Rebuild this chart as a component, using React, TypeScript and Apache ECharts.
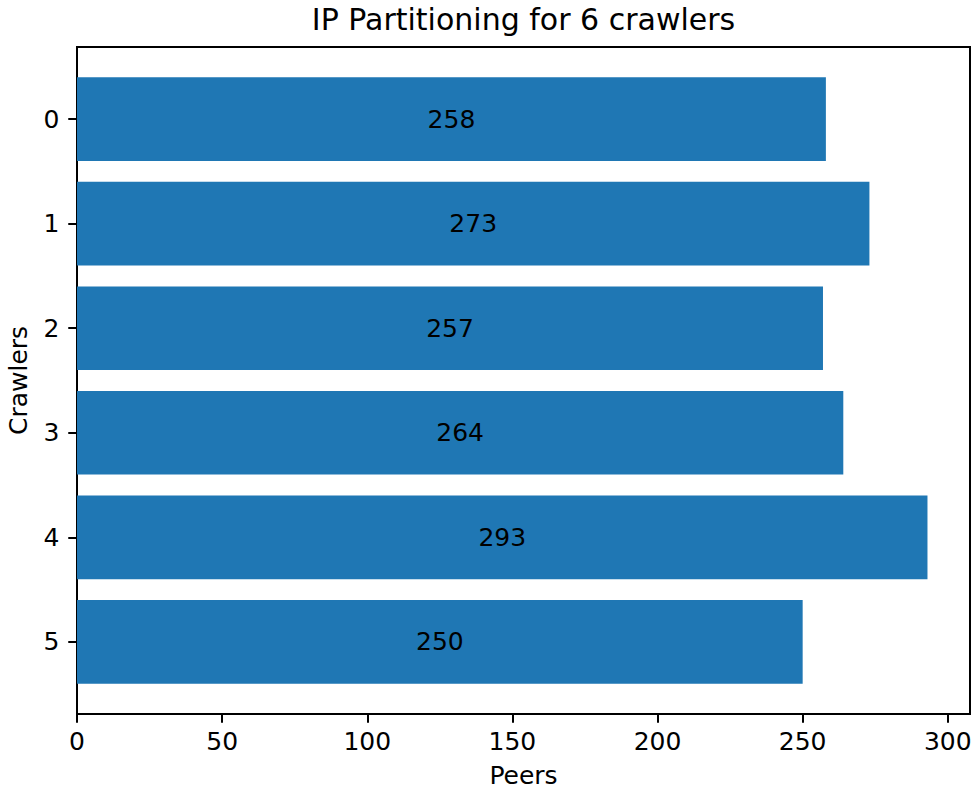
import React, { useEffect, useRef } from "react";
import * as echarts from "echarts";

const TITLE = "IP Partitioning for 6 crawlers";
const X_NAME = "Peers";
const Y_NAME = "Crawlers";
const crawlers = [0, 1, 2, 3, 4, 5];
const peers = [258, 273, 257, 264, 293, 250];
const xTicks = [0, 50, 100, 150, 200, 250, 300];
const yTicks = [0, 1, 2, 3, 4, 5];

const FONT = "'DejaVu Sans', sans-serif";
const BAR_COLOR = "#1f77b4";

export default function App() {
  const ref = useRef<HTMLDivElement>(null);
  useEffect(() => {
    if (!ref.current) return;
    const chart = echarts.init(ref.current, null, { renderer: "svg" });
    const data = crawlers.map((c, i) => [peers[i], c]);
    const xMax = Math.max(...peers) * 1.05;
    const yMin = -0.4 - 0.05 * (crawlers.length - 1 + 0.8);
    const yMax = crawlers.length - 1 + 0.4 + 0.05 * (crawlers.length - 1 + 0.8);
    chart.setOption({
      animation: false,
      backgroundColor: "#ffffff",
      graphic: [
        {
          type: "text",
          x: 523.5,
          y: 19.5,
          style: {
            text: TITLE,
            fill: "#000",
            font: `30px ${FONT}`,
            textAlign: "center",
            textVerticalAlign: "middle",
          },
        },
      ],
      grid: {
        left: 77,
        right: 3,
        top: 47,
        bottom: 76,
        containLabel: false,
        outerBoundsMode: "none",
        show: true,
        borderColor: "#000",
        borderWidth: 2,
        backgroundColor: "transparent",
      },
      xAxis: {
        type: "value",
        min: 0,
        max: xMax,
        name: X_NAME,
        nameLocation: "middle",
        nameGap: 49,
        nameTextStyle: { fontFamily: FONT, fontSize: 25, color: "#000" },
        axisLine: { show: true, onZero: false, lineStyle: { color: "#000", width: 2 } },
        splitLine: { show: false },
        axisTick: {
          show: true,
          length: 8.75,
          lineStyle: { color: "#000", width: 2 },
          customValues: xTicks,
        },
        axisLabel: {
          customValues: xTicks,
          margin: 14.5,
          fontFamily: FONT,
          fontSize: 25,
          color: "#000",
        },
      },
      yAxis: {
        type: "value",
        min: yMin,
        max: yMax,
        inverse: true,
        name: Y_NAME,
        nameLocation: "middle",
        nameRotate: 90,
        nameGap: 46,
        nameTextStyle: { fontFamily: FONT, fontSize: 25, color: "#000" },
        axisLine: { show: true, onZero: false, lineStyle: { color: "#000", width: 2 } },
        splitLine: { show: false },
        axisTick: {
          show: true,
          length: 8.75,
          lineStyle: { color: "#000", width: 2 },
          customValues: yTicks,
        },
        axisLabel: {
          customValues: yTicks,
          margin: 17.5,
          fontFamily: FONT,
          fontSize: 25,
          color: "#000",
        },
      },
      series: [
        {
          type: "custom",
          encode: { x: 0, y: 1 },
          data,
          renderItem: (params: any, api: any) => {
            const v = api.value(0);
            const c = api.value(1);
            const start = api.coord([0, c]);
            const end = api.coord([v, c]);
            const h = Math.abs(api.size([0, 0.8])[1]);
            return {
              type: "rect",
              shape: {
                x: start[0],
                y: start[1] - h / 2,
                width: end[0] - start[0],
                height: h,
              },
              style: { fill: BAR_COLOR },
              textContent: {
                style: {
                  text: String(v),
                  fill: "#000",
                  font: `25px ${FONT}`,
                },
              },
              textConfig: { position: "inside" },
            };
          },
        },
      ],
    });
    return () => chart.dispose();
  }, []);
  return (
    <div
      ref={ref}
      style={{ position: "absolute", left: 0, top: 0, width: 973, height: 790 }}
    />
  );
}
